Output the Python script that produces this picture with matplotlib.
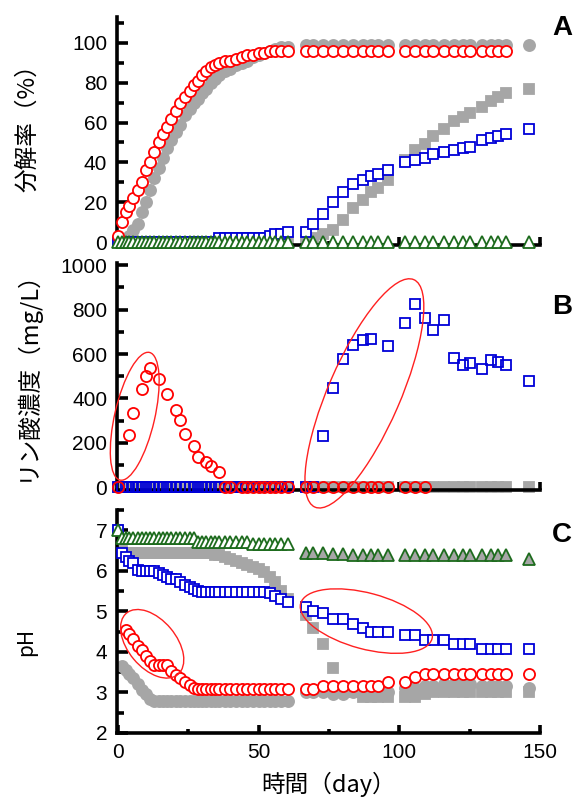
import numpy as np
import matplotlib
matplotlib.use('Agg')
from matplotlib import pyplot as plt
from matplotlib.patches import Ellipse
import matplotlib.transforms as mtransforms

nan = np.nan

# sampling days (first run, then second run after the gap)
days1 = [0, 1.5, 3, 4, 5.5, 7, 8.5, 10, 11.5, 13, 14.5, 16, 17.5, 19, 20.5, 22, 24, 25.5, 27, 28.5,
         30, 31.5, 33, 34.5, 36, 38, 40, 42, 44, 46, 48, 50, 52, 54, 56, 58, 60.5]
days2 = [67, 69.5, 73, 76.5, 80, 83.5, 87, 90, 92.5, 96, 102, 105.5, 109, 112, 116, 119.5, 122.5,
         125, 129.5, 132.5, 135, 138, 146]
days = days1 + days2

# A: decomposition rate (%)
a_gray_circ = [0, 0, 1, 3, 6, 9, 15, 20, 26, 32, 37, 42, 47, 51, 55, 59, 64, 67, 70, 72,
               75, 77, 80, 82, 84, 86, 87, 89, 90, 91, 93, 94, 95, 96, 97, 98, 98] + \
              [99, 99, 99, 99, 99, 99, 99, 99, 99, 99, 99, 99, 99, 99, 99, 99, 99, 99, 99, 99, 99, 99, 99]
a_red = [3, 10, 15, 18, 22, 26, 30, 36, 40, 45, 50, 54, 58, 62, 66, 70, 73, 76, 79, 81,
         84, 86, 88, 89, 90, 91, 91, 92, 93, 94, 94, 95, 95, 96, 96, 96, 96] + \
        [96, 96, 96, 96, 96, 96, 96, 96, 96, 96, 96, 96, 96, 96, 96, 96, 96, 96, 96, 96, 96, 96, nan]
a_gray_sq = [0, 0, 0, 0, 0, 0, 0, 0, 0, 0, 0, 0, 0, 0, 0, 0, 0, 0, 0, 0,
             0, 0, 0, 0, 0, 0, 0, 0, 0, 0, 0, 0, 0, 0, 0, 0, 0] + \
            [1, 2, 4, 6, 11, 17, 21, 25, 27, 31, 41, 46, 49, 53, 57, 61, 63, 65, 68, 71, 73, 75, 77]
a_blue = [0, 0, 0, 0, 0, 0, 0, 0, 0, 0, 0, 0, 0, 0, 0, 0, 0, 0, 0, 0,
          0, 0, 0, 0, 2, 2, 2, 2, 2, 2, 2, 2, 2, 3, 4, 4, 5] + \
         [5, 9, 14, 20, 25, 29, 31, 33, 34, 36, 40, 41, 42, 44, 45, 46, 47, 47.5, 51, 52, 53, 54, 57]
a_tri = [0] * 60

# B: phosphate (mg/L)
b_gray_sq = [0] * 60
b_red = [0, nan, nan, 234, 336, nan, 444, 501, 537, nan, 489, nan, 422, nan, 350, 302, 242, nan, 185, 137,
         nan, 114, 95, nan, 69, 0, 0, nan, 0, 0, 0, 0, 0, 0, 0, 0, 0] + \
        [0, 0, 0, 0, 0, 0, 0, 0, 0, 0, 0, 0, 0, nan, nan, nan, nan, nan, nan, nan, nan, nan, nan]
b_blue = [0, 0, 0, 0, 0, 0, 0, 0, 0, 0, 0, 0, 0, 0, 0, 0, 0, 0, 0, 0,
          0, 0, 0, 0, 0, 0, 0, 0, 0, 0, 0, 0, 0, 0, 0, 0, 0] + \
         [0, 0, 230, 447, 577, 643, 665, 670, nan, 636, 742, 827, 763, 710, 755, 584, 553, 562, 531, 575,
          564, 553, 479]

# C: pH
c_gray_sq = [7.0, 6.5, 6.45, 6.45, 6.45, 6.45, 6.45, 6.45, 6.45, 6.45, 6.45, 6.45, 6.45, 6.45, 6.45,
             6.45, 6.45, 6.45, 6.45, 6.45, 6.45, 6.45, 6.45, 6.4, 6.38, 6.35, 6.3, 6.25, 6.2, 6.15,
             6.1, 6.05, 5.97, 5.85, 5.72, 5.5, 5.3] + \
            [4.9, 4.6, 4.2, 3.6, 3.05, 3.0, 2.9, 2.9, 2.9, 2.9, 2.9, 2.9, 2.95, 3.0, 3.0, 3.0, 3.0, 3.0,
             3.0, 3.0, 3.0, 3.0, 3.0]
c_gray_circ = [nan, 3.65, 3.55, 3.45, 3.35, 3.2, 3.05, 2.95, 2.85, 2.8, 2.78, 2.78, 2.78, 2.78, 2.78,
               2.78, 2.8, 2.78, 2.78, 2.78, 2.8, 2.78, 2.78, 2.78, 2.78, 2.8, 2.78, 2.78, 2.78, 2.8,
               2.78, 2.78, 2.78, 2.8, 2.8, 2.8, 2.8] + \
              [3.0, 3.0, 3.0, 2.95, 2.95, 3.0, 3.0, 3.0, 3.0, 3.0, 3.1, 3.1, 3.15, 3.15, 3.2, 3.2, 3.2,
               3.2, 3.15, 3.15, 3.15, 3.15, 3.1]
c_blue = [7.0, 6.45, 6.35, 6.25, 6.2, 6.02, 6.0, 6.0, 6.0, 6.0, 5.95, 5.9, 5.85, 5.8, 5.8, 5.72,
          5.66, 5.6, 5.55, 5.5, 5.48, 5.48, 5.48, 5.48, 5.48, 5.48, 5.48, 5.48, 5.48, 5.48, 5.48,
          5.48, 5.48, 5.45, 5.38, 5.3, 5.22] + \
         [5.1, 5.0, 4.95, 4.82, 4.8, 4.7, 4.6, 4.5, 4.5, 4.5, 4.42, 4.42, 4.3, 4.3, 4.3, 4.2, 4.2, 4.2,
          4.08, 4.08, 4.08, 4.08, 4.08]
c_red = [nan, nan, 4.55, 4.45, 4.32, 4.15, 4.05, 3.9, 3.78, 3.68, 3.68, 3.68, 3.68, 3.52, 3.42,
         3.35, 3.25, 3.18, 3.12, 3.08, 3.08, 3.08, 3.08, 3.08, 3.08, 3.08, 3.08, 3.08, 3.08, 3.08,
         3.08, 3.08, 3.08, 3.08, 3.08, 3.08, 3.08] + \
        [3.08, 3.08, 3.16, 3.16, 3.16, 3.15, 3.15, 3.15, 3.15, 3.25, 3.25, 3.37, 3.45, 3.45, 3.45,
         3.45, 3.45, 3.45, 3.45, 3.45, 3.45, 3.45, 3.45]
c_tri = [7.0, 6.8, 6.8, 6.8, 6.8, 6.8, 6.8, 6.8, 6.8, 6.8, 6.8, 6.8, 6.8, 6.8, 6.8, 6.8, 6.8, 6.8,
         6.8, 6.72, 6.72, 6.72, 6.72, 6.72, 6.72, 6.72, 6.72, 6.72, 6.72, 6.72, 6.65, 6.65, 6.65,
         6.65, 6.65, 6.65, 6.65] + \
        [6.45, 6.45, 6.45, 6.42, 6.42, 6.4, 6.4, 6.4, 6.4, 6.4, 6.38, 6.38, 6.38, 6.38, 6.38, 6.38,
         6.38, 6.38, 6.38, 6.38, 6.38, 6.38, 6.3]

GRAY = '#a6a6a6'
RED = '#ff0000'
BLUE = '#0000d8'
GREEN = '#1d6b1d'
JP = ['Noto Sans CJK JP', 'DejaVu Sans']

plt.rcParams['font.family'] = ['Liberation Sans Narrow', 'Liberation Sans', 'DejaVu Sans']
plt.rcParams['font.size'] = 15

fig = plt.figure(figsize=(5.76, 8.08), dpi=100)
W = 576.0
H = 808.0


def axes_px(left, top, right, bottom):
    return fig.add_axes([left / W, 1 - bottom / H, (right - left) / W, (bottom - top) / H])


def style(ax, ylim, major, minor, xlabels):
    ax.set_xlim(-0.3, 150)
    ax.set_ylim(*ylim)
    ax.spines['top'].set_visible(False)
    ax.spines['right'].set_visible(False)
    ax.spines['left'].set_linewidth(2.6)
    ax.spines['bottom'].set_linewidth(2.6)
    ax.set_xticks([0, 50, 100, 150])
    ax.set_xticks([25, 75, 125], minor=True)
    ax.set_yticks(major)
    ax.set_yticks(minor, minor=True)
    ax.tick_params(which='both', direction='in', width=2.6, pad=7)
    ax.tick_params(axis='y', which='major', length=8)
    ax.tick_params(axis='y', which='minor', length=5)
    ax.tick_params(axis='x', which='major', length=6)
    ax.tick_params(axis='x', which='minor', length=3)
    if not xlabels:
        ax.set_xticklabels([])
    ax.patch.set_visible(False)


def ring(ax, x, y, w, h, ang):
    tr = fig.dpi_scale_trans + mtransforms.ScaledTranslation(x, y, ax.transData)
    ax.add_patch(Ellipse((0, 0), w, h, angle=ang, transform=tr, fill=False,
                         ec='#ff2020', lw=1.0, clip_on=False, zorder=6))


def pts(ax, y, marker, face, edge, ms, z, x=days):
    ax.plot(x, y, ls='none', marker=marker, ms=ms, mfc=face, mec=edge, mew=1.3,
            zorder=z, clip_on=False)


# ---- A
axA = axes_px(117, 17, 540, 245)
style(axA, (-1.5, 113), np.arange(0, 101, 20), np.arange(10, 111, 20), False)
pts(axA, a_gray_sq, 's', GRAY, GRAY, 7.5, 2)
pts(axA, a_gray_circ, 'o', GRAY, GRAY, 8, 2)
pts(axA, a_blue, 's', 'white', BLUE, 7.5, 3)
pts(axA, a_red, 'o', 'white', RED, 8, 4)
pts(axA, a_tri, '^', 'white', GREEN, 8.5, 5)
axA.set_ylabel('分解率（%）', family=JP, fontsize=17)
axA.yaxis.set_label_coords(-0.185, 0.54)

# ---- B
axB = axes_px(117, 263, 540, 490)
style(axB, (-12, 1010), np.arange(0, 1001, 200), np.arange(100, 1001, 200), False)
pts(axB, b_gray_sq, 's', GRAY, GRAY, 7.5, 2)
pts(axB, b_blue, 's', 'none', BLUE, 7.5, 3)
pts(axB, b_red, 'o', 'none', RED, 8, 4)
ring(axB, 6.0, 320, 1.31, 0.40, 77)
ring(axB, 87.6, 423, 2.48, 0.72, 66.5)
axB.set_ylabel('リン酸濃度（mg/L）', family=JP, fontsize=17)
axB.yaxis.set_label_coords(-0.185, 0.53)

# ---- C
axC = axes_px(117, 510, 540, 733)
style(axC, (2, 7.5), np.arange(2, 8, 1), np.arange(2.5, 7.6, 1), True)
pts(axC, c_gray_sq, 's', GRAY, GRAY, 7.5, 2)
pts(axC, c_gray_circ, 'o', GRAY, GRAY, 8, 2)
pts(axC, c_blue, 's', 'white', BLUE, 7.5, 3)
pts(axC, c_red, 'o', 'white', RED, 8, 4)
pts(axC, c_tri[:37], '^', 'white', GREEN, 8.5, 5, days1)
pts(axC, c_tri[37:], '^', GRAY, GREEN, 8.5, 5, days2)
ring(axC, 12.2, 4.2, 0.80, 0.48, -50)
ring(axC, 88.3, 4.76, 1.36, 0.56, -15)
axC.set_ylabel('pH', family=JP, fontsize=15)
axC.yaxis.set_label_coords(-0.19, 0.41)
axC.set_xlabel('時間（day）', family=JP, fontsize=17)
axC.xaxis.set_label_coords(0.5, -0.175)

for lab, yy in [('A', 28), ('B', 307), ('C', 535)]:
    fig.text(562 / W, 1 - yy / H, lab, ha='center', va='center', fontsize=20,
             fontweight='bold', family=['Liberation Sans', 'DejaVu Sans'])

fig.savefig('out.png', dpi=100)
